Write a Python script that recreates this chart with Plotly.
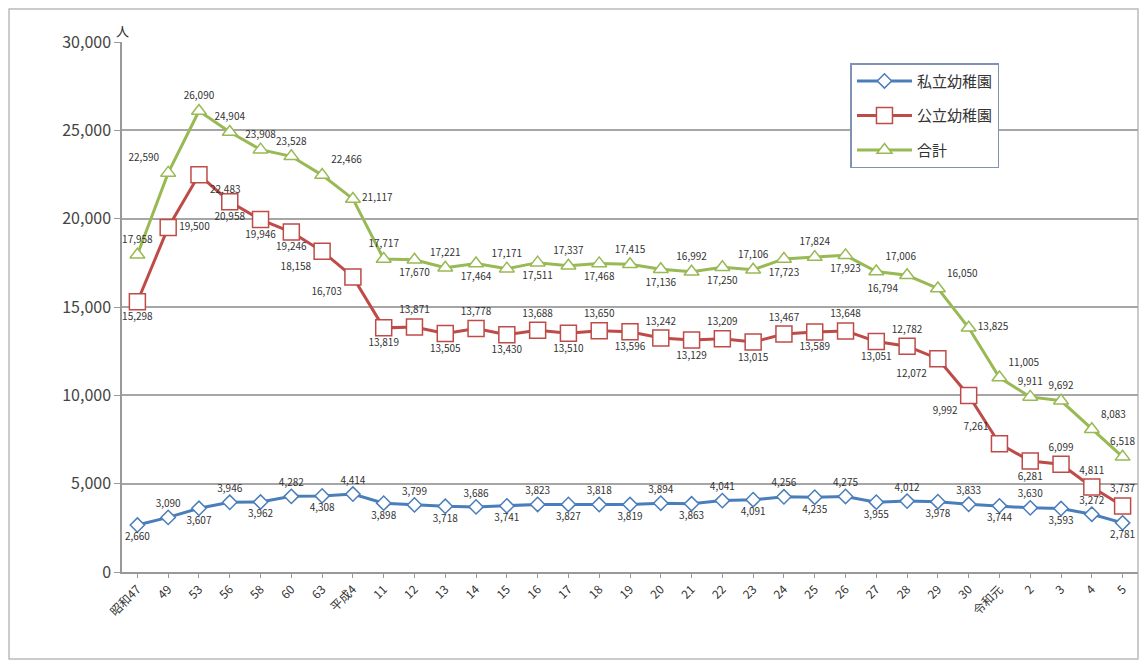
import plotly.graph_objects as go

categories = ["昭和47", "49", "53", "56", "58", "60", "63", "平成4",
              "11", "12", "13", "14", "15", "16", "17", "18", "19", "20",
              "21", "22", "23", "24", "25", "26", "27", "28", "29", "30",
              "令和元", "2", "3", "4", "5"]

private = [2660, 3090, 3607, 3946, 3962, 4282, 4308, 4414,
           3898, 3799, 3718, 3686, 3741, 3823, 3827, 3818, 3819, 3894,
           3863, 4041, 4091, 4256, 4235, 4275, 3955, 4012, 3978, 3833,
           3744, 3630, 3593, 3272, 2781]

public = [15298, 19500, 22483, 20958, 19946, 19246, 18158, 16703,
          13819, 13871, 13505, 13778, 13430, 13688, 13510, 13650, 13596, 13242,
          13129, 13209, 13015, 13467, 13589, 13648, 13051, 12782, 12072, 9992,
          7261, 6281, 6099, 4811, 3737]

total = [17958, 22590, 26090, 24904, 23908, 23528, 22466, 21117,
         17717, 17670, 17221, 17464, 17171, 17511, 17337, 17468, 17415, 17136,
         16992, 17250, 17106, 17723, 17824, 17923, 17006, 16794, 16050, 13825,
         11005, 9911, 9692, 8083, 6518]

series_names = ["私立幼稚園", "公立幼稚園", "合計"]

n = len(categories)
x = list(range(n))

pos_private = ["bottom center" if i % 2 == 0 else "top center" for i in range(n)]

pos_public = ["bottom center" if i % 2 == 0 else "top center" for i in range(n)]
pos_public[1] = "middle right"
pos_public[2] = "bottom right"
pos_public[3] = "bottom center"
pos_public[4] = "bottom center"
pos_public[5] = "bottom center"
pos_public[6] = "bottom left"
pos_public[7] = "bottom left"
pos_public[26] = "bottom left"
pos_public[27] = "bottom left"
pos_public[28] = "top left"
pos_public[29] = "bottom center"
pos_public[30] = "top center"
pos_public[31] = "top center"
pos_public[32] = "top center"

pos_total = ["top center" if i % 2 == 0 else "bottom center" for i in range(n)]
pos_total[0] = "top center"
pos_total[1] = "top left"
for i in range(2, 6):
    pos_total[i] = "top center"
pos_total[6] = "top right"
pos_total[7] = "middle right"
pos_total[8] = "top center"
pos_total[9] = "bottom center"
pos_total[10] = "top center"
pos_total[21] = "bottom center"
pos_total[22] = "top center"
pos_total[23] = "bottom center"
pos_total[24] = "top right"
pos_total[25] = "bottom left"
pos_total[26] = "top right"
pos_total[27] = "middle right"
pos_total[28] = "top right"
pos_total[29] = "top center"
pos_total[30] = "top center"
pos_total[31] = "top right"
pos_total[32] = "top center"

font_main = "Noto Sans CJK JP, Noto Sans, sans-serif"
label_font = dict(family=font_main, size=10, color="#333333")

fig = go.Figure()

fig.add_trace(go.Scatter(
    x=x, y=private, name=series_names[0], mode="lines+markers+text",
    legendgroup="a",
    line=dict(color="#4A7EBB", width=3),
    marker=dict(symbol="diamond", size=11, color="white",
                line=dict(color="#4A7EBB", width=1.5)),
    text=[f"{v:,}" for v in private], textposition=pos_private,
    textfont=label_font, cliponaxis=False,
))
fig.add_trace(go.Scatter(
    x=x, y=public, name=series_names[1], mode="lines+markers+text",
    legendgroup="b",
    line=dict(color="#BE4B48", width=3),
    marker=dict(symbol="square", size=16, color="white",
                line=dict(color="#BE4B48", width=1.5)),
    text=[f"{v:,}" for v in public], textposition=pos_public,
    textfont=label_font, cliponaxis=False,
))
fig.add_trace(go.Scatter(
    x=x, y=total, name=series_names[2], mode="lines+markers+text",
    legendgroup="c",
    line=dict(color="#98B954", width=3),
    marker=dict(symbol="triangle-up", size=13, color="white",
                line=dict(color="#98B954", width=1.5)),
    text=[f"{v:,}" for v in total], textposition=pos_total,
    textfont=label_font, cliponaxis=False,
))

fig.update_layout(
    width=1131, height=652,
    margin=dict(l=114, r=1, t=34, b=88, autoexpand=False),
    paper_bgcolor="white", plot_bgcolor="white",
    font=dict(family=font_main, color="#333333"),
    showlegend=True,
    legend=dict(x=0.717, y=0.96, xanchor="left", yanchor="top",
                bgcolor="white", bordercolor="#7F93B5", borderwidth=1.5,
                font=dict(size=15, family=font_main, color="#333333"),
                itemwidth=55, tracegroupgap=12),
    xaxis=dict(
        tickmode="array", tickvals=x, ticktext=categories,
        range=[-0.5, n - 0.5], tickangle=-45,
        showline=True, linecolor="#999999", linewidth=1.5,
        ticks="outside", ticklen=4, tickcolor="#999999",
        showgrid=False, zeroline=False, automargin=False,
        tickfont=dict(size=12, family=font_main, color="#333333"),
    ),
    yaxis=dict(
        range=[0, 30000], dtick=5000, tickformat=",",
        showline=True, linecolor="#999999", linewidth=1.5,
        ticks="outside", ticklen=6, tickcolor="#999999",
        showgrid=True, gridcolor="#A6A6A6", gridwidth=1.5,
        zeroline=False, automargin=False,
        tickfont=dict(size=16, family=font_main, color="#444444"),
    ),
    annotations=[dict(
        text="人", xref="paper", yref="paper", x=0, y=1.0,
        xanchor="center", yanchor="bottom", showarrow=False,
        font=dict(size=13, family=font_main, color="#333333"),
    )],
    shapes=[dict(
        type="rect", xref="paper", yref="paper",
        x0=-0.1112, x1=1.0, y0=-0.164, y1=1.0623,
        line=dict(color="#BBBBBB", width=1.5), fillcolor="rgba(0,0,0,0)",
        layer="below",
    )],
)

fig.write_html("out.html")
